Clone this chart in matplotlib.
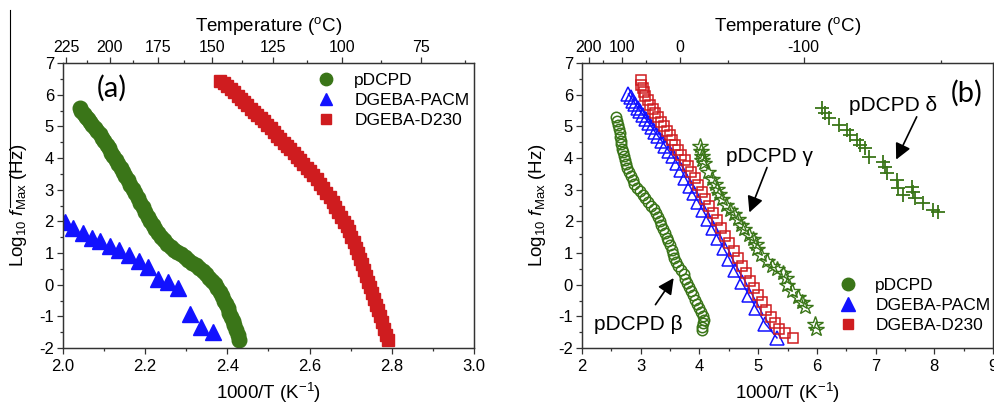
import numpy as np
import matplotlib.pyplot as plt
from matplotlib.lines import Line2D
from matplotlib.ticker import MultipleLocator, FixedLocator, FormatStrFormatter

plt.rcParams['font.family'] = ['Liberation Sans', 'DejaVu Sans']
plt.rcParams['mathtext.fontset'] = 'custom'
plt.rcParams['mathtext.rm'] = 'Liberation Sans'
plt.rcParams['mathtext.it'] = 'Liberation Sans:italic'
plt.rcParams['axes.linewidth'] = 0.9
plt.rcParams['axes.edgecolor'] = '#333333'
plt.rcParams['axes.unicode_minus'] = False

GREEN = '#3a7518'
BLUE = '#1212ff'
RED = '#cf1c1f'

# ---- panel (a): main relaxation ----
a_pdcpd_x = [2.041, 2.045, 2.050, 2.055, 2.060, 2.066, 2.071, 2.077, 2.083, 2.089,
             2.095, 2.100, 2.106, 2.111, 2.117, 2.122, 2.128, 2.134, 2.140, 2.146,
             2.152, 2.158, 2.164, 2.170, 2.176, 2.182, 2.188, 2.194, 2.200, 2.206,
             2.212, 2.218, 2.224, 2.231, 2.238, 2.246, 2.254, 2.262, 2.270, 2.278,
             2.287, 2.296, 2.305, 2.314, 2.323, 2.332, 2.340, 2.348, 2.356, 2.363,
             2.370, 2.376, 2.382, 2.387, 2.392, 2.397, 2.401, 2.405, 2.409, 2.413,
             2.417, 2.421, 2.425, 2.429]
a_pdcpd_y = [5.57, 5.50, 5.40, 5.31, 5.22, 5.13, 5.04, 4.95, 4.86, 4.75,
             4.63, 4.53, 4.42, 4.31, 4.17, 4.05, 3.93, 3.81, 3.68, 3.55,
             3.43, 3.30, 3.15, 3.01, 2.88, 2.73, 2.58, 2.44, 2.30, 2.15,
             2.01, 1.88, 1.76, 1.64, 1.52, 1.40, 1.29, 1.20, 1.11, 1.04,
             0.96, 0.88, 0.79, 0.70, 0.61, 0.52, 0.42, 0.33, 0.22, 0.12,
             0.02, -0.10, -0.24, -0.37, -0.50, -0.62, -0.75, -0.88, -1.01, -1.14,
             -1.28, -1.42, -1.58, -1.74]

a_pacm_x = [2.005, 2.025, 2.048, 2.070, 2.091, 2.114, 2.137, 2.161, 2.184, 2.208,
            2.232, 2.256, 2.281, 2.308, 2.335, 2.366]
a_pacm_y = [1.98, 1.80, 1.64, 1.49, 1.37, 1.23, 1.10, 0.93, 0.76, 0.55,
            0.17, 0.09, -0.12, -0.94, -1.35, -1.50]

a_d230_x = [2.383, 2.392, 2.400, 2.408, 2.416, 2.425, 2.433, 2.441, 2.449, 2.457,
            2.465, 2.473, 2.481, 2.489, 2.497, 2.505, 2.513, 2.521, 2.529, 2.537,
            2.545, 2.553, 2.561, 2.569, 2.577, 2.585, 2.593, 2.601, 2.609, 2.617,
            2.625, 2.633, 2.641, 2.649, 2.656, 2.663, 2.670, 2.677, 2.684, 2.690,
            2.696, 2.702, 2.707, 2.712, 2.717, 2.722, 2.727, 2.732, 2.737, 2.742,
            2.747, 2.752, 2.757, 2.762, 2.767, 2.772, 2.777, 2.782, 2.787, 2.790]
a_d230_y = [6.44, 6.37, 6.27, 6.17, 6.07, 5.97, 5.86, 5.76, 5.66, 5.56,
            5.46, 5.36, 5.26, 5.16, 5.05, 4.94, 4.83, 4.71, 4.60, 4.49,
            4.38, 4.27, 4.15, 4.04, 3.93, 3.81, 3.70, 3.58, 3.46, 3.33,
            3.19, 3.05, 2.91, 2.77, 2.62, 2.46, 2.30, 2.15, 1.99, 1.84,
            1.68, 1.52, 1.35, 1.17, 0.99, 0.82, 0.64, 0.46, 0.28, 0.10,
            -0.08, -0.27, -0.45, -0.63, -0.81, -1.00, -1.19, -1.39, -1.58, -1.74]

# ---- panel (b): secondary relaxations ----
b_beta_x = [2.57, 2.60, 2.62, 2.63, 2.64, 2.65, 2.66, 2.67, 2.68, 2.69,
            2.71, 2.73, 2.75, 2.77, 2.80, 2.83, 2.86, 2.89, 2.93, 2.98,
            3.03, 3.08, 3.13, 3.18, 3.22, 3.26, 3.29, 3.32, 3.35, 3.38,
            3.41, 3.44, 3.47, 3.50, 3.53, 3.55, 3.57, 3.60, 3.64, 3.69,
            3.73, 3.76, 3.79, 3.82, 3.86, 3.89, 3.92, 3.96, 3.99, 4.03,
            4.06, 4.07, 4.06, 4.05, 4.04]
b_beta_y = [5.28, 5.18, 5.05, 4.92, 4.80, 4.67, 4.55, 4.43, 4.30, 4.18,
            4.05, 3.93, 3.80, 3.68, 3.55, 3.43, 3.30, 3.18, 3.06, 2.95,
            2.84, 2.73, 2.62, 2.50, 2.38, 2.26, 2.13, 2.00, 1.88, 1.75,
            1.62, 1.49, 1.37, 1.24, 1.11, 0.98, 0.85, 0.72, 0.60, 0.47,
            0.33, 0.19, 0.05, -0.08, -0.21, -0.34, -0.47, -0.60, -0.73, -0.86,
            -0.98, -1.10, -1.22, -1.33, -1.43]

b_pacm_x = [2.79, 2.83, 2.87, 2.91, 2.95, 2.99, 3.04, 3.09, 3.14, 3.19,
            3.24, 3.30, 3.36, 3.42, 3.48, 3.55, 3.62, 3.69, 3.76, 3.83,
            3.90, 3.98, 4.06, 4.14, 4.23, 4.32, 4.41, 4.51, 4.61, 4.72,
            4.84, 4.97, 5.12, 5.32]
b_pacm_y = [6.02, 5.92, 5.81, 5.70, 5.59, 5.48, 5.36, 5.23, 5.10, 4.97,
            4.83, 4.68, 4.53, 4.38, 4.22, 4.05, 3.85, 3.62, 3.38, 3.13,
            2.88, 2.62, 2.35, 2.08, 1.79, 1.48, 1.16, 0.82, 0.46, 0.08,
            -0.32, -0.75, -1.23, -1.68]

b_d230_x = [3.00, 3.01, 3.03, 3.05, 3.08, 3.12, 3.16, 3.20, 3.25, 3.29,
            3.34, 3.39, 3.44, 3.49, 3.54, 3.59, 3.64, 3.69, 3.75, 3.80,
            3.86, 3.92, 3.98, 4.04, 4.10, 4.17, 4.23, 4.30, 4.37, 4.44,
            4.51, 4.58, 4.65, 4.72, 4.79, 4.86, 4.93, 5.00, 5.07, 5.14,
            5.21, 5.28, 5.35, 5.45, 5.60]
b_d230_y = [6.45, 6.32, 6.20, 6.07, 5.95, 5.82, 5.69, 5.56, 5.42, 5.28,
            5.14, 5.00, 4.86, 4.72, 4.57, 4.42, 4.26, 4.10, 3.93, 3.75,
            3.56, 3.36, 3.15, 2.94, 2.72, 2.50, 2.27, 2.03, 1.79, 1.55,
            1.31, 1.07, 0.83, 0.59, 0.36, 0.13, -0.10, -0.33, -0.56, -0.79,
            -1.02, -1.22, -1.40, -1.54, -1.68]

b_gamma_x = [4.01, 4.03, 4.04, 4.05, 4.07, 4.15, 4.22, 4.26, 4.30, 4.34,
             4.38, 4.45, 4.52, 4.58, 4.66, 4.71, 4.75, 4.85, 4.92, 4.96,
             4.98, 5.05, 5.15, 5.24, 5.32, 5.42, 5.47, 5.49, 5.58, 5.68,
             5.75, 5.80, 5.96, 5.98]
b_gamma_y = [4.37, 4.22, 4.05, 3.95, 3.84, 3.55, 3.35, 3.18, 3.02, 2.85,
             2.70, 2.52, 2.37, 2.22, 2.06, 1.90, 1.76, 1.58, 1.45, 1.30,
             1.12, 0.95, 0.75, 0.60, 0.50, 0.38, 0.20, 0.00, -0.20, -0.38,
             -0.55, -0.70, -1.25, -1.40]

b_delta_x = [6.08, 6.14, 6.20, 6.37, 6.51, 6.57, 6.68, 6.74, 6.82, 6.88,
             7.13, 7.16, 7.19, 7.36, 7.39, 7.47, 7.62, 7.64, 7.67, 7.81,
             7.98, 8.07]
b_delta_y = [5.57, 5.41, 5.25, 5.04, 4.88, 4.73, 4.57, 4.41, 4.31, 4.04,
             3.88, 3.73, 3.52, 3.31, 3.04, 2.83, 3.09, 2.94, 2.73, 2.57,
             2.36, 2.30]

a_temps = [225, 200, 175, 150, 125, 100, 75]
a_temps_minor = [212.5, 187.5, 162.5, 137.5, 112.5, 87.5, 62.5]
b_temps = [200, 100, 0, -100]
b_temps_minor = [150, 50, -50, -150]

legend_labels = ['pDCPD', 'DGEBA-PACM', 'DGEBA-D230']

fig = plt.figure(figsize=(9.95, 4.05), dpi=100)
ax_a = fig.add_axes([0.0633, 0.1407, 0.413, 0.7037])
ax_b = fig.add_axes([0.585, 0.1407, 0.413, 0.7037])


def to_inv(t):
    return 1000.0 / (np.asarray(t, dtype=float) + 273.15)


def style(ax, xlim, xmaj, xmin, temps, temps_minor, fmt):
    ax.set_xlim(*xlim)
    ax.set_ylim(-2, 7)
    ax.xaxis.set_major_locator(MultipleLocator(xmaj))
    ax.xaxis.set_minor_locator(MultipleLocator(xmin))
    ax.xaxis.set_major_formatter(FormatStrFormatter(fmt))
    ax.yaxis.set_major_locator(MultipleLocator(1))
    ax.yaxis.set_minor_locator(MultipleLocator(0.5))
    ax.tick_params(which='both', direction='out', top=False, right=False,
                   width=0.9, color='#333333', labelsize=12)
    ax.tick_params(which='major', length=4)
    ax.tick_params(which='minor', length=2.5)
    ax.tick_params(axis='x', pad=4)
    ax.tick_params(axis='y', pad=2.5)
    ax.set_xlabel('1000/T (K$^{-1}$)', fontsize=13.5, labelpad=5)
    ax.set_ylabel(r'Log$_{10}$ $f$$_{\rm Max}$ (Hz)', fontsize=13.5, labelpad=7)

    top = ax.twiny()
    top.set_xlim(ax.get_xlim())
    top.set_xticks(to_inv(temps))
    top.set_xticklabels([str(t) for t in temps])
    top.xaxis.set_minor_locator(FixedLocator(to_inv(temps_minor)))
    top.tick_params(which='both', direction='out', width=0.9, color='#333333',
                    labelsize=11.5, pad=2)
    top.tick_params(which='major', length=4)
    top.tick_params(which='minor', length=2.5)
    top.set_xlabel('Temperature ($^{\\rm o}$C)', fontsize=13.5, labelpad=6)
    return top


style(ax_a, (2.0, 3.0), 0.2, 0.1, a_temps, a_temps_minor, '%.1f')
style(ax_b, (2, 9), 1, 0.5, b_temps, b_temps_minor, '%d')

# panel (a)
ax_a.plot(a_pdcpd_x, a_pdcpd_y, 'o', color=GREEN, ms=10.5, mec=GREEN, label=legend_labels[0])
ax_a.plot(a_pacm_x, a_pacm_y, '^', color=BLUE, ms=11, mec=BLUE, label=legend_labels[1])
ax_a.plot(a_d230_x, a_d230_y, 's', color=RED, ms=8, mec=RED, label=legend_labels[2])
ax_a.legend(loc='upper left', bbox_to_anchor=(0.62, 0.965), frameon=False,
            fontsize=12.5, handlelength=1.0, handletextpad=1.1, labelspacing=0.28,
            borderpad=0, borderaxespad=0, markerscale=0.85)
ax_a.text(2.12, 6.2, '(a)', fontsize=21, family=['Lato', 'DejaVu Sans'],
          ha='center', va='center')

# panel (b)
ax_b.plot(b_beta_x, b_beta_y, 'o', ms=7.5, mfc='none', mec=GREEN, mew=1.1)
ax_b.plot(b_pacm_x, b_pacm_y, '-^', color=BLUE, ms=9.5, mfc='none', mec=BLUE, mew=1.1, lw=1.1)
ax_b.plot(b_d230_x, b_d230_y, 's', ms=7, mfc='none', mec=RED, mew=1.1)
ax_b.plot(b_gamma_x, b_gamma_y, '*', ms=11.5, mfc='none', mec=GREEN, mew=1.0)
ax_b.plot(b_delta_x, b_delta_y, '+', ms=10, mec=GREEN, mew=1.3)

handles = [Line2D([], [], ls='none', marker='o', color=GREEN, ms=9),
           Line2D([], [], ls='none', marker='^', color=BLUE, ms=10),
           Line2D([], [], ls='none', marker='s', color=RED, ms=7.5)]
ax_b.legend(handles, legend_labels, loc='upper left', bbox_to_anchor=(0.625, 0.245),
            frameon=False, fontsize=12.5, handlelength=1.0, handletextpad=1.1,
            labelspacing=0.28, borderpad=0, borderaxespad=0)

ax_b.text(8.55, 6.05, '(b)', fontsize=21, family=['Lato', 'DejaVu Sans'],
          ha='center', va='center')

arrow = dict(arrowstyle='-|>', color='black', lw=1.2, mutation_scale=24,
             shrinkA=0, shrinkB=0)
ax_b.text(7.3, 5.65, 'pDCPD δ', fontsize=15, ha='center', va='center')
ax_b.annotate('', xy=(7.35, 3.95), xytext=(7.70, 5.30), arrowprops=arrow)
ax_b.text(5.19, 4.05, 'pDCPD γ', fontsize=15, ha='center', va='center')
ax_b.annotate('', xy=(4.85, 2.28), xytext=(5.15, 3.70), arrowprops=arrow)
ax_b.text(2.96, -1.26, 'pDCPD β', fontsize=15, ha='center', va='center')
ax_b.annotate('', xy=(3.56, 0.21), xytext=(3.25, -0.63), arrowprops=arrow)

# thin stray line at the very left of the original figure
fig.add_artist(Line2D([10 / 995, 10 / 995], [1 - 10 / 405, 1 - 207 / 405],
                      color='black', lw=0.8))

fig.savefig('out.png', dpi=100, facecolor='white')
